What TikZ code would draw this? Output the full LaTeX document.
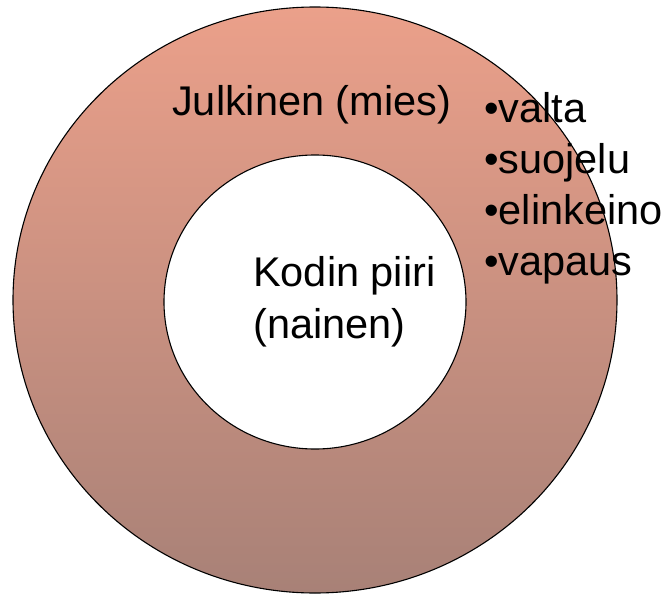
\documentclass[tikz,border=0pt]{standalone}
\usepackage{fontspec}
\setmainfont{Liberation Sans}
\usetikzlibrary{shapes.geometric, positioning}

\definecolor{ringtop}{RGB}{235,160,138}
\definecolor{ringbot}{RGB}{168,129,119}

\tikzset{
    ring/.style={ellipse, draw, line width=1.1pt, inner sep=0pt},
    lbl/.style={anchor=base west, inner sep=0pt, font=\fontsize{41.5}{51}\selectfont}
}

\begin{document}
\begin{tikzpicture}[x=1pt, y=-1pt]
        \useasboundingbox (0,0) rectangle (672,596);
        \node[ring, top color=ringtop, bottom color=ringbot,
              minimum width=604pt, minimum height=586pt] (julkinen) at (315,300) {};
        \node[ring, fill=white, minimum width=302pt, minimum height=294pt] (koti) at (315,302) {};
        \node[lbl] (julk) at (172,116) {Julkinen (mies)};
        \node[lbl] (kodin) at (253,287) {Kodin piiri};
        \node[lbl] (nainen) at (253,338) {(nainen)};
        \foreach \w [count=\i] in {valta, suojelu, elinkeino, vapaus}
            \node[lbl] (ala-\i) at (484,{123+51*(\i-1)}) {•\w};
    \end{tikzpicture}
\end{document}
